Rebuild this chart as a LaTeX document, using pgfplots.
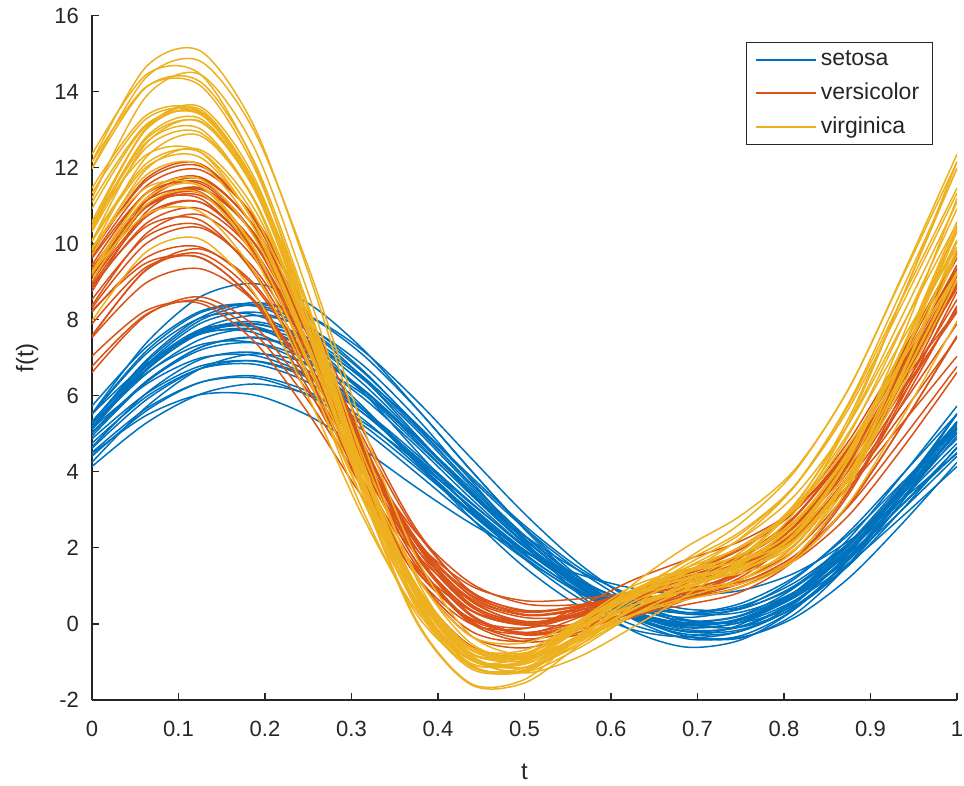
\documentclass[border=0pt]{standalone}
\usepackage{pgfplots}
\usepackage{pgfplotstable}
\pgfplotsset{compat=1.18}
\usepackage{fontspec}
\setmainfont{Liberation Sans}
\definecolor{cS}{rgb}{0,0.447,0.741}
\definecolor{cV}{rgb}{0.850,0.325,0.098}
\definecolor{cG}{rgb}{0.929,0.694,0.125}
\definecolor{ax}{rgb}{0.15,0.15,0.15}

\pgfplotstableread{
c p0 p1 p2 p3 p4 p5 p6 p7 p8 p9 p10 p11 p12 p13 p14 p15 p16
t 0 0.0625 0.125 0.1875 0.25 0.3125 0.375 0.4375 0.5 0.5625 0.625 0.6875 0.75 0.8125 0.875 0.9375 1
s1 5.01 6.38 7.27 7.52 7.11 6.16 4.89 3.51 2.21 1.12 0.34 -0.02 0.11 0.77 1.92 3.42 5.01
s2 4.87 6.05 6.78 6.91 6.47 5.56 4.40 3.18 2.07 1.17 0.55 0.30 0.47 1.09 2.13 3.47 4.87
s3 5.52 7.17 8.18 8.36 7.72 6.49 4.97 3.46 2.12 1.04 0.26 -0.15 -0.08 0.58 1.86 3.61 5.52
s4 4.51 5.66 6.35 6.47 6.01 5.11 3.97 2.79 1.71 0.85 0.27 0.04 0.21 0.83 1.85 3.15 4.51
s5 4.14 5.28 6.04 6.31 6.04 5.32 4.28 3.10 1.94 0.95 0.24 -0.08 0.04 0.62 1.60 2.84 4.14
s6 5.30 6.88 7.98 8.40 8.10 7.20 5.88 4.38 2.90 1.60 0.62 0.09 0.10 0.72 1.92 3.54 5.30
s7 5.53 7.38 8.60 8.95 8.43 7.24 5.68 4.05 2.53 1.24 0.26 -0.33 -0.37 0.26 1.58 3.45 5.53
s8 5.73 7.27 8.22 8.40 7.83 6.68 5.22 3.70 2.33 1.22 0.44 0.08 0.23 0.96 2.25 3.94 5.73
s9 5.52 6.83 7.62 7.75 7.22 6.17 4.82 3.41 2.12 1.09 0.41 0.17 0.42 1.19 2.42 3.95 5.52
s10 4.25 5.70 6.71 7.10 6.85 6.06 4.89 3.57 2.25 1.09 0.20 -0.32 -0.35 0.17 1.21 2.66 4.25
s11 5.31 6.79 7.64 7.66 6.91 5.65 4.24 2.94 1.91 1.13 0.57 0.26 0.31 0.85 1.98 3.56 5.31
s12 5.29 6.59 7.34 7.40 6.79 5.67 4.26 2.80 1.49 0.48 -0.15 -0.33 -0.01 0.84 2.13 3.71 5.29
s13 5.18 6.70 7.74 8.11 7.78 6.82 5.42 3.79 2.18 0.79 -0.18 -0.61 -0.42 0.39 1.74 3.42 5.18
s14 5.29 6.93 8.05 8.45 8.09 7.09 5.67 4.06 2.49 1.13 0.13 -0.39 -0.31 0.40 1.71 3.43 5.29
s15 4.48 5.48 6.03 6.02 5.48 4.60 3.59 2.65 1.88 1.31 0.94 0.77 0.88 1.34 2.18 3.29 4.48
s16 5.51 7.10 8.04 8.13 7.41 6.11 4.55 3.02 1.71 0.68 -0.02 -0.35 -0.19 0.54 1.86 3.62 5.51
s17 5.14 6.78 7.74 7.81 7.04 5.73 4.28 2.97 1.94 1.14 0.53 0.11 0.04 0.49 1.59 3.25 5.14
s18 5.32 6.76 7.70 7.95 7.52 6.52 5.17 3.71 2.32 1.16 0.34 -0.03 0.12 0.83 2.06 3.65 5.32
s19 4.41 5.60 6.35 6.52 6.11 5.24 4.11 2.92 1.81 0.90 0.27 -0.02 0.11 0.70 1.71 3.02 4.41
s20 5.04 6.36 7.20 7.39 6.94 5.96 4.68 3.31 2.04 0.99 0.27 -0.04 0.14 0.83 1.99 3.48 5.04
s21 4.62 5.89 6.71 6.92 6.52 5.64 4.47 3.21 2.02 1.04 0.34 0.01 0.12 0.72 1.78 3.16 4.62
s22 4.75 5.97 6.71 6.83 6.35 5.40 4.18 2.91 1.75 0.82 0.20 -0.04 0.15 0.82 1.92 3.31 4.75
s23 4.94 6.35 7.27 7.54 7.14 6.19 4.89 3.48 2.14 1.01 0.20 -0.19 -0.06 0.61 1.78 3.31 4.94
s24 4.65 6.06 6.95 7.14 6.65 5.65 4.37 3.05 1.85 0.87 0.16 -0.21 -0.15 0.44 1.54 3.03 4.65
s25 5.12 6.80 7.90 8.20 7.72 6.64 5.26 3.83 2.52 1.41 0.54 0.00 -0.08 0.43 1.58 3.24 5.12
s26 5.11 6.66 7.65 7.90 7.41 6.33 4.93 3.46 2.11 0.98 0.16 -0.27 -0.19 0.46 1.68 3.33 5.11
s27 5.14 6.30 6.99 7.06 6.54 5.56 4.33 3.07 1.94 1.05 0.48 0.29 0.54 1.24 2.35 3.73 5.14
s28 5.32 6.79 7.68 7.82 7.22 6.10 4.76 3.45 2.32 1.41 0.75 0.39 0.42 0.97 2.08 3.62 5.32
s29 5.19 6.57 7.48 7.76 7.39 6.48 5.25 3.89 2.59 1.49 0.70 0.30 0.39 1.01 2.13 3.61 5.19
s30 5.25 6.69 7.63 7.88 7.45 6.45 5.10 3.64 2.25 1.09 0.27 -0.10 0.05 0.76 1.99 3.58 5.25
}\setosaRaw

\pgfplotstableread{
c p0 p1 p2 p3 p4 p5 p6 p7 p8 p9 p10 p11 p12 p13 p14 p15 p16
t 0 0.0625 0.125 0.1875 0.25 0.3125 0.375 0.4375 0.5 0.5625 0.625 0.6875 0.75 0.8125 0.875 0.9375 1
s1 9.65 11.51 11.94 10.70 8.15 5.12 2.49 0.84 0.25 0.37 0.76 1.19 1.75 2.80 4.61 7.08 9.65
s2 9.78 11.65 12.04 10.68 7.98 4.81 2.11 0.48 -0.02 0.23 0.72 1.20 1.78 2.83 4.65 7.16 9.78
s3 7.89 9.38 9.64 8.46 6.19 3.56 1.39 0.15 -0.11 0.23 0.74 1.15 1.59 2.38 3.79 5.79 7.89
s4 9.16 11.19 11.71 10.43 7.76 4.57 1.87 0.25 -0.25 -0.02 0.40 0.74 1.16 2.07 3.85 6.40 9.16
s5 6.77 8.14 8.50 7.65 5.87 3.71 1.83 0.63 0.17 0.21 0.44 0.69 1.07 1.80 3.10 4.89 6.77
s6 7.04 8.24 8.43 7.43 5.54 3.34 1.48 0.36 0.04 0.24 0.65 1.06 1.54 2.32 3.60 5.30 7.04
s7 8.24 9.49 9.63 8.51 6.44 4.04 1.97 0.68 0.24 0.41 0.86 1.39 2.04 3.03 4.52 6.39 8.24
s8 7.56 9.32 9.86 8.94 6.86 4.34 2.17 0.83 0.36 0.44 0.66 0.82 1.06 1.74 3.16 5.26 7.56
s9 8.88 10.45 10.62 9.20 6.58 3.63 1.26 0.01 -0.12 0.45 1.15 1.69 2.18 3.01 4.51 6.64 8.88
s10 8.97 11.11 11.63 10.24 7.37 4.02 1.24 -0.31 -0.63 -0.22 0.32 0.65 0.97 1.78 3.50 6.11 8.97
s11 9.61 11.31 11.58 10.22 7.61 4.57 1.99 0.46 0.01 0.29 0.83 1.37 2.01 3.07 4.82 7.18 9.61
s12 9.74 11.71 12.10 10.63 7.74 4.39 1.62 0.06 -0.26 0.17 0.78 1.25 1.74 2.68 4.45 7.01 9.74
s13 7.53 8.97 9.34 8.48 6.63 4.39 2.39 1.08 0.53 0.51 0.72 1.00 1.43 2.26 3.67 5.56 7.53
s14 9.34 11.12 11.36 9.82 6.94 3.66 0.95 -0.57 -0.86 -0.37 0.33 0.93 1.54 2.57 4.34 6.79 9.34
s15 8.74 10.83 11.43 10.24 7.64 4.53 1.87 0.26 -0.26 -0.09 0.26 0.51 0.84 1.69 3.42 5.97 8.74
s16 6.61 8.11 8.60 7.84 6.11 3.99 2.15 1.01 0.61 0.66 0.82 0.93 1.11 1.67 2.86 4.64 6.61
s17 9.20 10.98 11.33 10.00 7.40 4.36 1.82 0.36 0.00 0.34 0.86 1.31 1.80 2.71 4.37 6.71 9.20
s18 9.14 10.98 11.44 10.28 7.84 4.93 2.42 0.87 0.34 0.48 0.84 1.18 1.64 2.57 4.26 6.63 9.14
s19 9.36 11.00 11.19 9.70 6.96 3.83 1.26 -0.18 -0.45 0.03 0.72 1.33 1.96 2.96 4.65 6.96 9.36
s20 8.91 10.70 11.09 9.84 7.31 4.34 1.78 0.22 -0.29 -0.10 0.34 0.77 1.31 2.31 4.05 6.43 8.91
s21 9.03 10.97 11.47 10.26 7.73 4.70 2.11 0.53 0.03 0.20 0.58 0.91 1.33 2.23 3.94 6.40 9.03
s22 8.53 10.18 10.49 9.26 6.83 3.98 1.53 0.03 -0.47 -0.28 0.17 0.64 1.23 2.25 3.93 6.20 8.53
s23 9.27 10.95 11.27 10.03 7.57 4.67 2.17 0.61 0.07 0.23 0.66 1.15 1.77 2.83 4.57 6.89 9.27
s24 7.58 9.30 9.74 8.66 6.38 3.69 1.43 0.12 -0.22 0.03 0.41 0.68 0.98 1.69 3.13 5.26 7.58
s25 8.37 10.26 10.76 9.61 7.17 4.28 1.82 0.38 -0.03 0.21 0.58 0.85 1.17 1.95 3.52 5.84 8.37
s26 9.01 10.76 11.09 9.78 7.21 4.20 1.64 0.09 -0.39 -0.15 0.34 0.83 1.41 2.44 4.19 6.56 9.01
s27 8.20 9.63 9.91 8.87 6.80 4.32 2.11 0.64 0.00 -0.01 0.29 0.74 1.40 2.47 4.09 6.15 8.20
s28 8.31 10.00 10.42 9.35 7.11 4.45 2.17 0.77 0.31 0.46 0.81 1.11 1.51 2.34 3.86 6.02 8.31
s29 8.83 10.53 10.92 9.77 7.43 4.64 2.24 0.74 0.23 0.36 0.73 1.12 1.63 2.57 4.22 6.47 8.83
s30 9.44 11.33 11.75 10.46 7.84 4.74 2.11 0.52 0.04 0.27 0.72 1.14 1.64 2.61 4.37 6.83 9.44
}\versiRaw

\pgfplotstableread{
c p0 p1 p2 p3 p4 p5 p6 p7 p8 p9 p10 p11 p12 p13 p14 p15 p16
t 0 0.0625 0.125 0.1875 0.25 0.3125 0.375 0.4375 0.5 0.5625 0.625 0.6875 0.75 0.8125 0.875 0.9375 1
s1 10.46 13.03 13.53 11.57 7.76 3.44 0.05 -1.59 -1.55 -0.58 0.38 0.88 1.16 1.93 3.87 6.97 10.46
s2 10.92 13.10 13.41 11.54 8.02 4.05 0.87 -0.77 -0.88 -0.09 0.83 1.48 2.02 3.02 4.97 7.84 10.92
s3 11.97 14.11 14.26 12.16 8.37 4.14 0.73 -1.06 -1.23 -0.39 0.69 1.56 2.37 3.64 5.82 8.84 11.97
s4 7.97 9.78 10.12 8.70 5.97 2.85 0.35 -0.94 -1.04 -0.45 0.22 0.64 0.97 1.68 3.18 5.46 7.97
s5 11.46 13.37 13.47 11.53 8.06 4.16 0.96 -0.82 -1.14 -0.50 0.46 1.35 2.26 3.62 5.77 8.60 11.46
s6 11.19 13.87 14.45 12.52 8.69 4.32 0.82 -0.94 -1.01 -0.16 0.73 1.20 1.49 2.33 4.36 7.58 11.19
s7 9.03 11.02 11.33 9.67 6.53 3.01 0.26 -1.05 -0.97 -0.13 0.73 1.22 1.53 2.22 3.80 6.28 9.03
s8 12.15 14.65 15.07 13.08 9.25 4.84 1.19 -0.85 -1.26 -0.64 0.22 0.93 1.65 2.94 5.30 8.63 12.15
s9 12.35 14.44 14.46 12.11 8.05 3.58 0.10 -1.56 -1.46 -0.30 1.03 2.03 2.85 4.06 6.19 9.20 12.35
s10 9.24 10.77 10.84 9.25 6.44 3.30 0.76 -0.60 -0.76 -0.16 0.65 1.36 2.04 3.06 4.72 6.96 9.24
s11 12.15 14.12 14.16 12.01 8.25 4.05 0.69 -1.09 -1.26 -0.40 0.73 1.71 2.65 4.01 6.20 9.15 12.15
s12 11.99 14.37 14.80 12.96 9.39 5.23 1.75 -0.29 -0.81 -0.37 0.37 1.04 1.79 3.11 5.42 8.63 11.99
s13 9.91 11.47 11.51 9.85 6.91 3.58 0.79 -0.86 -1.29 -0.87 -0.09 0.76 1.71 3.06 5.04 7.50 9.91
s14 10.06 12.63 13.22 11.44 7.86 3.76 0.50 -1.12 -1.15 -0.32 0.49 0.87 1.06 1.76 3.61 6.63 10.06
s15 10.44 13.04 13.60 11.74 8.04 3.84 0.54 -1.03 -0.96 -0.02 0.88 1.28 1.44 2.10 3.94 6.97 10.44
s16 9.27 11.31 11.70 10.17 7.17 3.72 0.89 -0.67 -0.93 -0.42 0.25 0.72 1.17 2.08 3.86 6.46 9.27
s17 10.40 12.66 13.02 11.14 7.60 3.59 0.42 -1.17 -1.20 -0.36 0.57 1.16 1.60 2.49 4.38 7.25 10.40
s18 10.31 12.52 12.92 11.17 7.81 3.99 0.94 -0.61 -0.69 0.06 0.90 1.42 1.81 2.66 4.48 7.26 10.31
s19 11.09 13.13 13.40 11.62 8.29 4.48 1.31 -0.50 -0.91 -0.40 0.39 1.11 1.89 3.16 5.27 8.14 11.09
s20 10.34 12.80 13.29 11.44 7.84 3.76 0.57 -0.95 -0.86 0.08 0.99 1.43 1.64 2.32 4.11 7.03 10.34
s21 9.20 11.19 11.52 9.89 6.80 3.30 0.50 -0.92 -1.00 -0.30 0.49 1.00 1.40 2.22 3.90 6.44 9.20
s22 10.06 12.01 12.27 10.55 7.36 3.72 0.75 -0.88 -1.15 -0.56 0.24 0.91 1.56 2.65 4.56 7.25 10.06
s23 10.54 12.33 12.41 10.54 7.24 3.56 0.61 -0.94 -1.06 -0.31 0.67 1.48 2.24 3.38 5.27 7.87 10.54
s24 9.70 11.95 12.47 10.92 7.80 4.19 1.25 -0.31 -0.50 0.07 0.73 1.10 1.40 2.18 3.94 6.67 9.70
s25 9.83 11.80 12.08 10.39 7.23 3.65 0.79 -0.68 -0.78 -0.06 0.77 1.35 1.83 2.72 4.46 7.05 9.83
s26 9.83 12.27 12.84 11.14 7.73 3.83 0.74 -0.77 -0.78 0.03 0.81 1.17 1.33 1.97 3.71 6.57 9.83
s27 10.10 12.10 12.41 10.75 7.60 3.99 1.03 -0.61 -0.90 -0.36 0.39 0.99 1.60 2.66 4.56 7.26 10.10
s28 10.58 13.00 13.47 11.64 8.08 4.03 0.81 -0.79 -0.82 0.01 0.89 1.37 1.68 2.48 4.35 7.29 10.58
s29 10.44 12.75 13.20 11.45 8.04 4.12 0.94 -0.75 -0.96 -0.31 0.48 0.99 1.44 2.39 4.34 7.26 10.44
s30 11.33 13.28 13.43 11.50 8.03 4.14 1.00 -0.67 -0.87 -0.13 0.84 1.66 2.43 3.64 5.67 8.45 11.33
}\virgRaw

\pgfplotstabletranspose[colnames from=c, input colnames to=pname]\setosa{\setosaRaw}
\pgfplotstabletranspose[colnames from=c, input colnames to=pname]\versi{\versiRaw}
\pgfplotstabletranspose[colnames from=c, input colnames to=pname]\virg{\virgRaw}

\begin{document}
\begin{tikzpicture}
\useasboundingbox (-46pt,-43pt) rectangle (436pt,350pt);
\begin{axis}[
  at={(0,0)}, anchor=south west,
  scale only axis, width=432.5pt, height=342.25pt,
  xmin=0, xmax=1, ymin=-2, ymax=16,
  axis lines*=left,
  axis line style={ax, line width=0.6pt},
  tick align=inside,
  major tick length=3.5pt,
  every tick/.style={ax, line width=0.6pt},
  xtick={0,0.1,0.2,0.3,0.4,0.5,0.6,0.7,0.8,0.9,1},
  xticklabels={0,0.1,0.2,0.3,0.4,0.5,0.6,0.7,0.8,0.9,1},
  ytick={-2,0,2,4,6,8,10,12,14,16},
  yticklabels={-2,0,2,4,6,8,10,12,14,16},
  ticklabel style={font=\fontsize{11}{13}\selectfont, text=ax},
  xticklabel style={yshift=-7pt},
  yticklabel style={xshift=-3pt},
  xlabel={t}, ylabel={f(t)},
  label style={font=\fontsize{12}{14}\selectfont, text=ax},
  xlabel style={at={(axis description cs:0.5,-0.105)}, anchor=center},
  ylabel style={at={(axis description cs:-0.075,0.5)}, anchor=center},
  legend style={at={(0.972,0.961)}, anchor=north east, draw=ax, line width=0.6pt,
    fill=white, font=\fontsize{11.5}{13}\selectfont, text=ax,
    inner xsep=4.5pt, row sep=3.2pt},
  legend cell align=left,
  legend image code/.code={\draw[#1, line width=0.8pt] (0pt,0pt) -- (30pt,0pt);},
  every axis plot/.append style={line width=0.75pt, smooth},
]
\addplot[cS] table[x=t, y=s1] {\setosa};
\addlegendentry{setosa}
\pgfplotsinvokeforeach{2,...,30}{
  \addplot[cS, forget plot] table[x=t, y=s#1] {\setosa};
}
\addplot[cV] table[x=t, y=s1] {\versi};
\addlegendentry{versicolor}
\pgfplotsinvokeforeach{2,...,30}{
  \addplot[cV, forget plot] table[x=t, y=s#1] {\versi};
}
\addplot[cG] table[x=t, y=s1] {\virg};
\addlegendentry{virginica}
\pgfplotsinvokeforeach{2,...,30}{
  \addplot[cG, forget plot] table[x=t, y=s#1] {\virg};
}
\end{axis}
\end{tikzpicture}
\end{document}
